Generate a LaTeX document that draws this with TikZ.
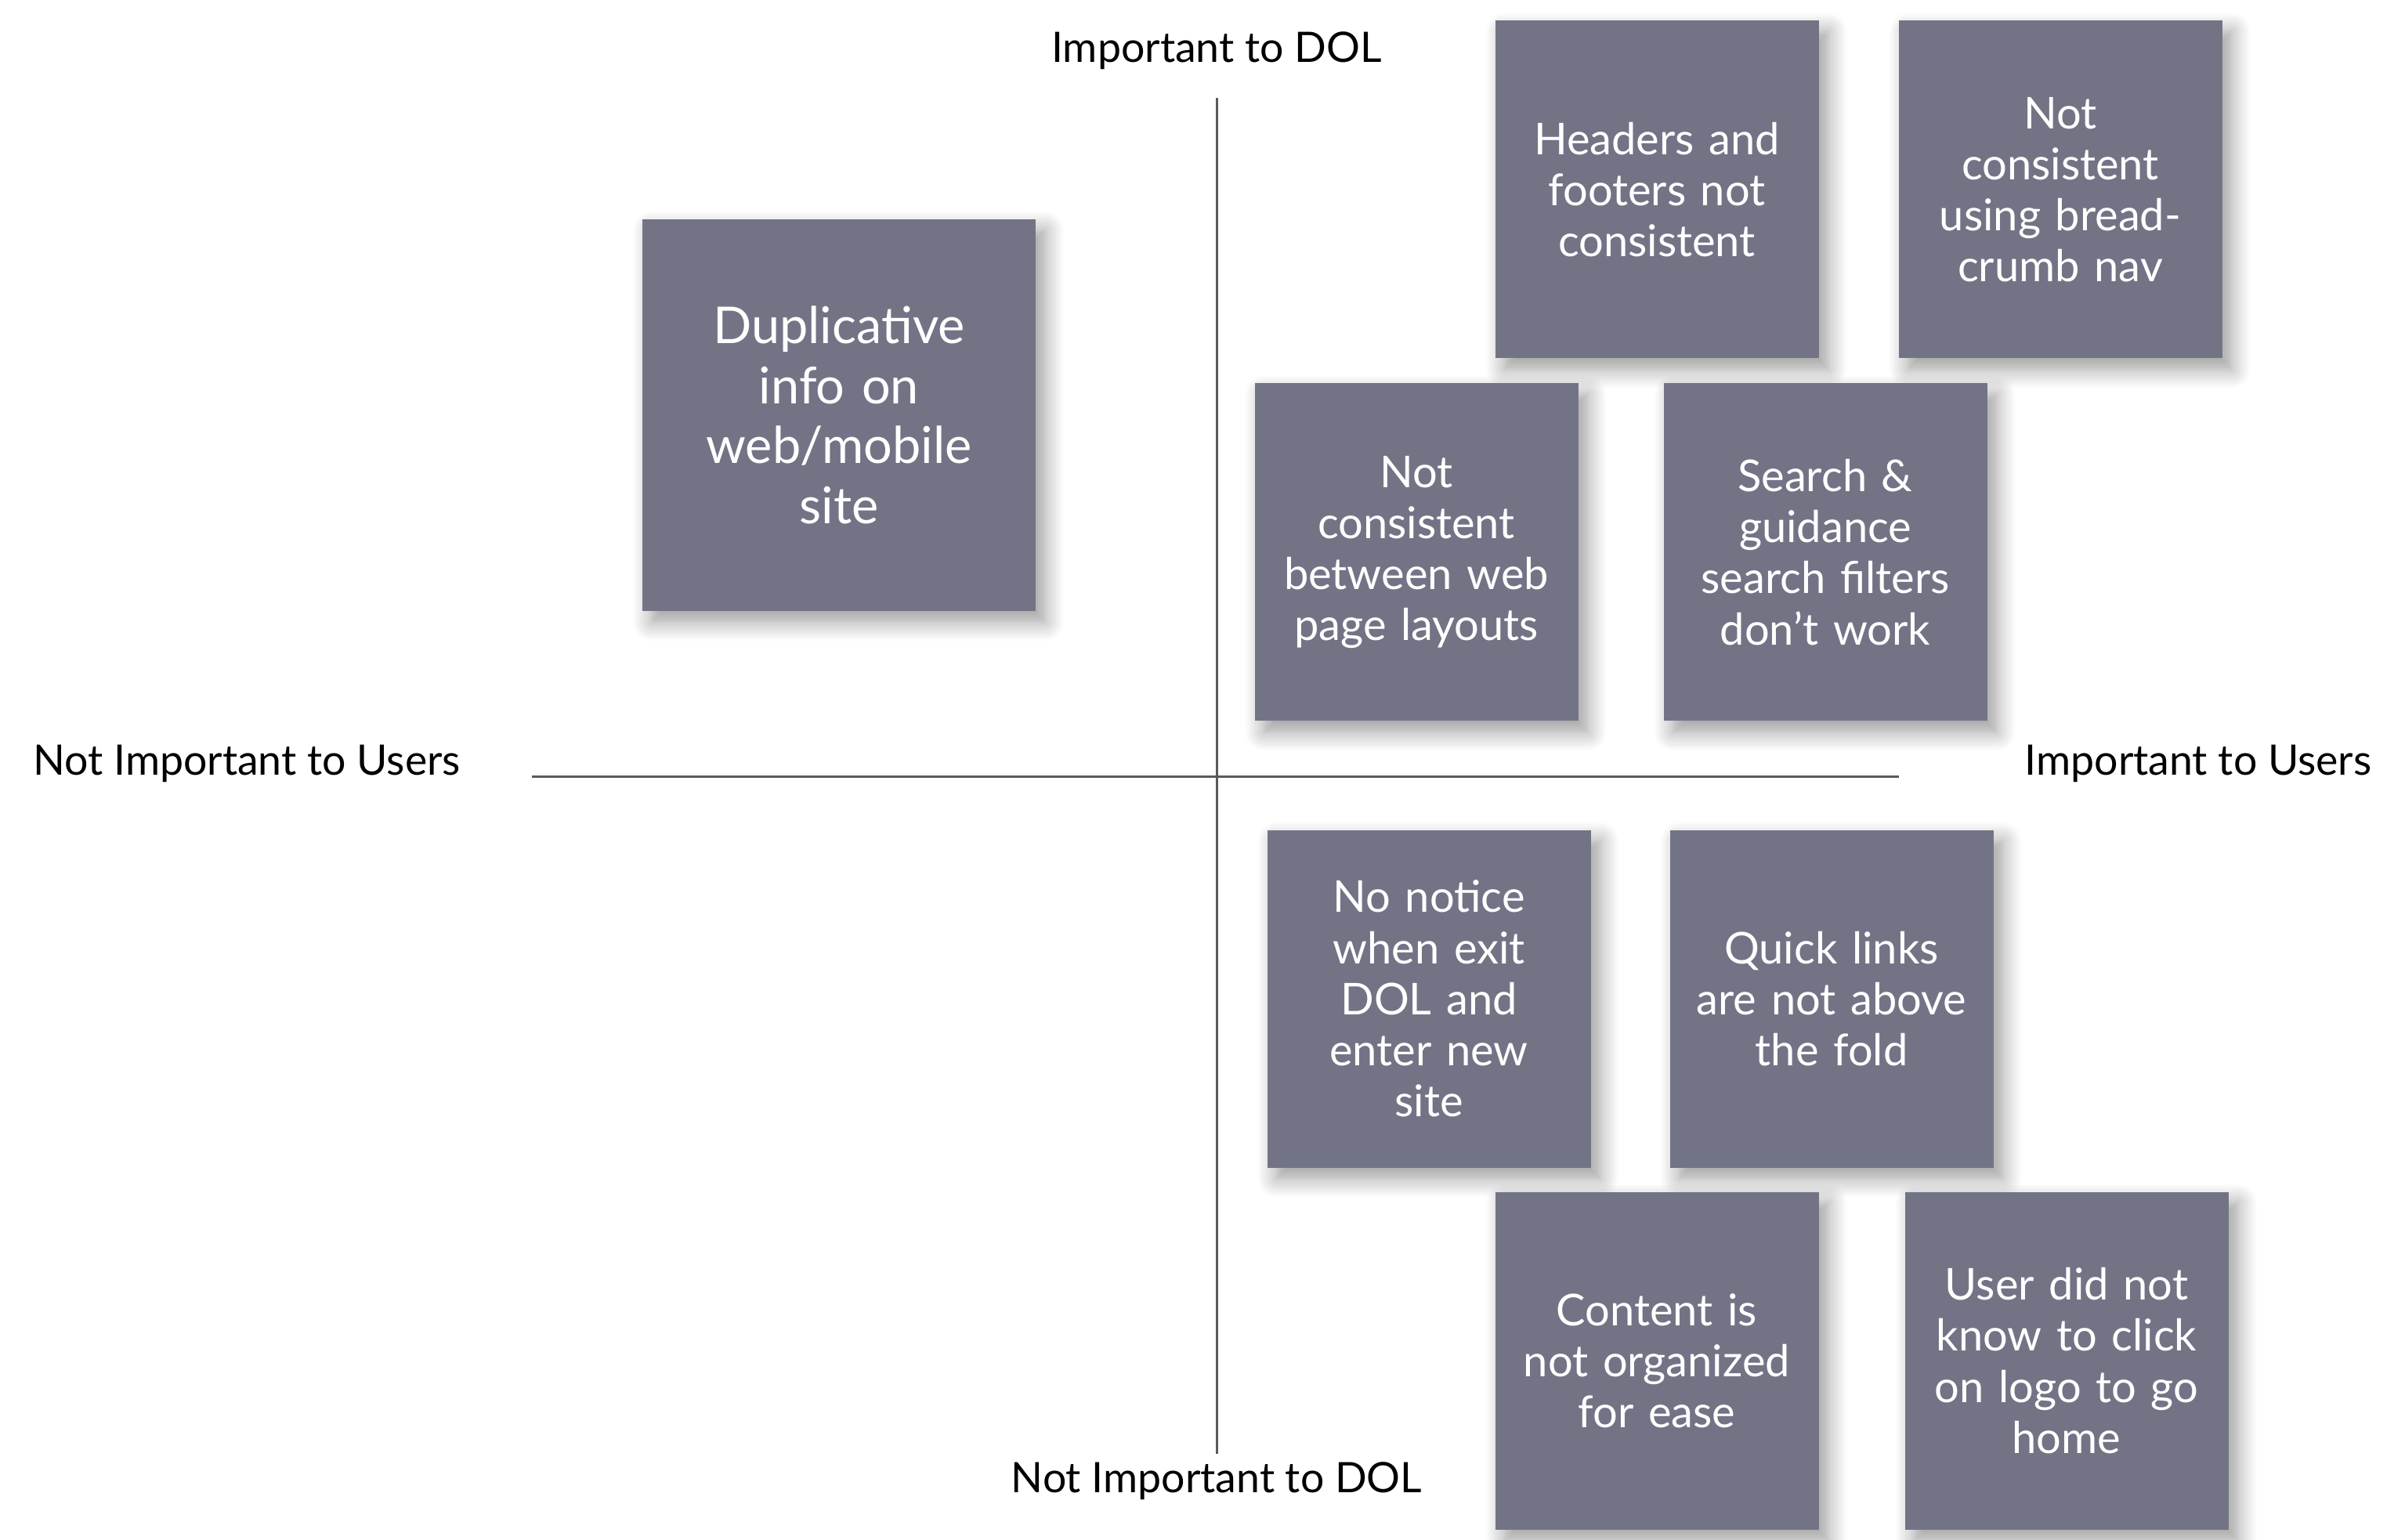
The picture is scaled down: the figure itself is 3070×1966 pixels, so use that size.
\documentclass[tikz,border=0pt]{standalone}
\usepackage{fontspec}
\setmainfont{Lato}
\usetikzlibrary{shadows.blur}
\definecolor{boxgray}{RGB}{114,116,134}
\definecolor{axisgray}{RGB}{90,90,90}
\tikzset{
  note/.style={fill=boxgray, text=white, align=center, inner sep=0pt,
    minimum width=103.25pt, minimum height=107.75pt, text width=97pt,
    font=\fontsize{14}{16.3}\selectfont,
    blur shadow={shadow xshift=3pt, shadow yshift=-3.5pt, shadow blur steps=10, shadow blur radius=6pt, shadow opacity=40}},
  bignote/.style={note, minimum width=125.5pt, minimum height=125pt, text width=115pt,
    font=\fontsize{16.2}{19.2}\selectfont},
  axislabel/.style={font=\fontsize{13.4}{15}\selectfont, text=black, inner sep=0pt},
  axis/.style={draw=axisgray, line width=0.75pt}
}
\begin{document}
\begin{tikzpicture}[x=0.25pt, y=-0.25pt]
\useasboundingbox (0,0) rectangle (3070,1966);
% axes
\coordinate (vtop) at (1553,125);
\coordinate (vbot) at (1553,1856);
\coordinate (hleft) at (679,991);
\coordinate (hright) at (2424,991);
\draw[axis] (vtop) -- (vbot);
\draw[axis] (hleft) -- (hright);
% axis labels
\node[axislabel] (ltop) at (1553,65) {Important to DOL};
\node[axislabel] (lbot) at (1553,1891) {Not Important to DOL};
\node[axislabel] (lleft) at (315,975) {Not Important to Users};
\node[axislabel] (lright) at (2806,975) {Important to Users};
% notes
\node[bignote] (dup) at (1071,530) {Duplicative\\info on\\web/mobile\\site};
\node[note] (hdr) at (2115,242) {Headers and\\footers not\\consistent};
\node[note] (bread) at (2630,242) {Not\\consistent\\using bread-\\crumb nav};
\node[note] (layouts) at (1808,705) {Not\\consistent\\between web\\page layouts};
\node[note] (search) at (2330,705) {Search \&\\guidance\\search filters\\don’t work};
\node[note] (notice) at (1824,1275) {No notice\\when exit\\DOL and\\enter new\\site};
\node[note] (quick) at (2338,1275) {Quick links\\are not above\\the fold};
\node[note] (content) at (2115,1737) {Content is\\not organized\\for ease};
\node[note] (user) at (2638,1737) {User did not\\know to click\\on logo to go\\home};
\end{tikzpicture}
\end{document}
